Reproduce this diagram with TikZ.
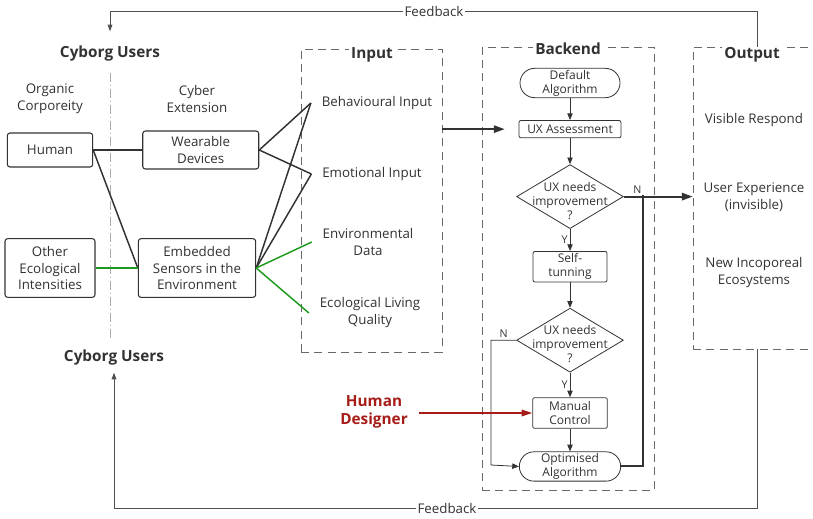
\documentclass[tikz,border=0pt]{standalone}
\usepackage{fontspec}
\setmainfont{Open Sans}
\usetikzlibrary{positioning,shapes.geometric,arrows.meta}

\definecolor{ink}{RGB}{50,50,50}
\definecolor{frame}{RGB}{105,105,105}
\definecolor{eco}{RGB}{30,155,30}
\definecolor{designer}{RGB}{165,28,24}

\tikzset{
  box/.style={draw=ink, line width=0.8pt, rounded corners=2pt, align=center, inner sep=0pt, text=ink, font=\fontsize{10}{12.5}\selectfont},
  flow/.style={draw=ink, line width=0.6pt, rounded corners=1.5pt, align=center, inner sep=0pt, text=ink, font=\fontsize{9}{10.5}\selectfont},
  pill/.style={flow, rounded corners=11pt},
  dec/.style={draw=ink, line width=0.6pt, diamond, inner sep=0pt, minimum width=80pt, minimum height=48pt},
  dectext/.style={align=center, text=ink, inner sep=0pt, yshift=-3pt, font=\fontsize{9}{10.5}\selectfont},
  area/.style={draw=frame, line width=0.6pt, dash pattern=on 6pt off 4pt, inner sep=0pt},
  heading/.style={font=\fontsize{11.5}{13}\selectfont\bfseries, text=ink, inner sep=2pt},
  txt/.style={align=center, text=ink, font=\fontsize{10}{12.75}\selectfont},
  yn/.style={text=ink, inner sep=1.5pt, font=\fontsize{8}{9}\selectfont},
  link/.style={draw=ink, line width=1.1pt},
  ecolink/.style={draw=eco, line width=1.1pt},
  arr/.style={draw=ink, line width=0.6pt, -{Triangle[length=5pt,width=4pt]}},
  bigarr/.style={draw=ink, line width=1.1pt, -{Triangle[length=8pt,width=5.5pt]}},
  fbline/.style={draw=ink!85, line width=0.7pt, -{Triangle[length=5pt,width=3.5pt]}},
  divider/.style={draw=ink!40, line width=0.6pt, dash pattern=on 7pt off 2pt on 1pt off 2pt},
}

\begin{document}
\begin{tikzpicture}[x=0.75pt,y=-0.75pt]
\useasboundingbox (0,0) rectangle (813,518);
\clip (0,0) rectangle (813,518);

% users
\node[heading] (cu1) at (110,54) {Cyborg Users};
\node[heading] (cu2) at (114,358) {Cyborg Users};
\node[txt] (oc) at (50,99) {Organic\\Corporeity};
\node[txt] (ce) at (197,99) {Cyber\\Extension};
\node[box, minimum width=64pt, minimum height=25.5pt] (h) at (50,150) {Human};
\node[box, minimum width=87pt, minimum height=28.5pt, right=36.75pt of h] (wd) {Wearable\\Devices};
\node[box, minimum width=67.5pt, minimum height=44pt] (oe) at (50,268) {Other\\Ecological\\Intensities};
\node[box, minimum width=88pt, minimum height=44pt] (es) at (197,268) {Embedded\\Sensors in the\\Environment};
\draw[divider, shorten <=6pt, shorten >=6pt] (cu1.south) -- (cu1.south |- cu2.north);

% input
\node[area, minimum width=105.75pt, minimum height=227.25pt] (ib) at (371.5,200.5) {};
\node[heading, fill=white] (it) at (372,55) {Input};
\node[txt, inner xsep=8pt] (i1) at (377,103) {Behavioural Input};
\node[txt, inner xsep=8pt] (i2) at (372,174) {Emotional Input};
\node[txt, inner xsep=8pt] (i3) at (368,242) {Environmental\\Data};
\node[txt, inner xsep=8pt] (i4) at (370,313) {Ecological Living\\Quality};

\draw[link] (h.east) -- (wd.west);
\draw[link] (h.east) -- (es.west);
\draw[ecolink] (oe.east) -- (es.west);
\draw[link] (wd.east) -- (i1.west);
\draw[link] (wd.east) -- (i2.west);
\draw[link] (es.east) -- (i1.west);
\draw[link] (es.east) -- (i2.west);
\draw[ecolink] (es.east) -- (i3.west);
\draw[ecolink] (es.east) -- (i4.west);

% backend
\node[area, minimum width=129pt, minimum height=332.25pt] (bb) at (568,268.5) {};
\node[heading, fill=white] (bt) at (568,49) {Backend};
\node[pill, minimum width=75pt, minimum height=22pt] (b1) at (570,83) {Default\\Algorithm};
\node[flow, minimum width=76.5pt, minimum height=13pt, below=16.5pt of b1] (b2) {UX Assessment};
\node[dec, below=19.5pt of b2, label={[dectext]center:UX needs\\improvement\\?}] (b3) {};
\node[flow, minimum width=55.5pt, minimum height=23pt, below=16.5pt of b3] (b4) {Self-\\tunning};
\node[dec, below=19pt of b4, label={[dectext]center:UX needs\\improvement\\?}] (b5) {};
\node[flow, minimum width=56pt, minimum height=23pt, below=18.5pt of b5] (b6) {Manual\\Control};
\node[pill, minimum width=76pt, minimum height=22pt, below=17pt of b6] (b7) {Optimised\\Algorithm};
\coordinate (n1) at (643,195);
\coordinate (n2) at (491,465);

\draw[arr] (b1) -- (b2);
\draw[arr] (b2) -- (b3);
\draw[arr] (b3) -- node[yn, left] {Y} (b4);
\draw[arr] (b4) -- (b5);
\draw[arr] (b5) -- node[yn, left] {Y} (b6);
\draw[arr] (b6) -- (b7);
\draw[arr] (b5.west) -| node[yn, pos=0.25, above] {N} (n2) -- (b7.west);
\draw[bigarr, shorten >=10.5pt] (ib.east |- b2.west) -- (b2.west);

% output
\node[area, minimum width=105pt, minimum height=226.5pt] (ob) at (763,198) {};
\node[heading, fill=white] (ot) at (752,55) {Output};
\node[txt] (o1) at (754,120) {Visible Respond};
\node[txt] (o2) at (754,197) {User Experience\\(invisible)};
\node[txt] (o3) at (754,273) {New Incoporeal\\Ecosystems};

\draw[bigarr, line width=1.5pt] (b3.east) -- node[yn, pos=0.2, above] {N} (ob.west |- b3.east);
\draw[draw=ink, line width=1.5pt] (b7.east) -| (n1);

% designer
\node[heading, text=designer, align=center] (hd) at (374,412) {Human\\Designer};
\draw[draw=designer, line width=1pt, -{Triangle[length=8pt,width=5pt]}, shorten <=6pt] (hd.east |- b6.west) -- (b6.west);

% feedback
\coordinate (f1) at (757,11);
\coordinate (f2) at (757,508);
\draw[fbline, shorten >=9pt] (ob.north -| f1) -- (f1) -| (cu1.north);
\draw[fbline, shorten >=3pt] (ob.south -| f2) -- (f2) -| (cu2.south);
\node[txt, fill=white, inner sep=1pt] (fb1) at (434,11) {Feedback};
\node[txt, fill=white, inner sep=1pt] (fb2) at (447,508) {Feedback};
\end{tikzpicture}
\end{document}
